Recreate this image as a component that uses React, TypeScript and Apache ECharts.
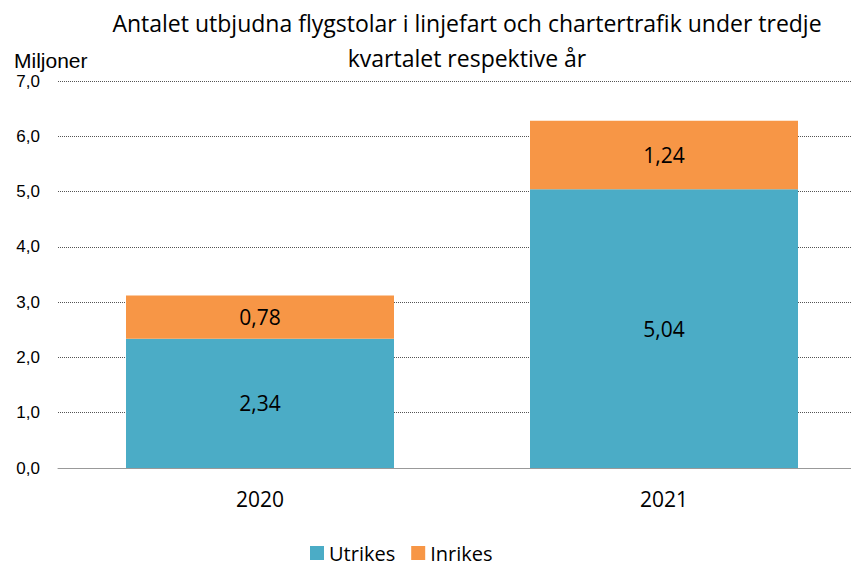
import React, { useEffect, useRef } from "react";
import * as echarts from "echarts";

const categories = ["2020", "2021"];
const utrikes = [2.34, 5.04];
const inrikes = [0.78, 1.24];
const titleText = "Antalet utbjudna flygstolar i linjefart och chartertrafik under tredje\nkvartalet respektive år";

const fmt = (v: number) => v.toFixed(2).replace(".", ",");

export default function App() {
  const ref = useRef<HTMLDivElement>(null);
  useEffect(() => {
    document.body.style.margin = "0";
    const chart = echarts.init(ref.current!, null, { renderer: "svg" });
    const font = "'Open Sans', sans-serif";
    const arial = "'Liberation Sans', Arial, sans-serif";
    chart.setOption({
      animation: false,
      title: {
        text: titleText,
        left: 462,
        top: 0,
        textAlign: "center",
        textStyle: { fontFamily: font, fontSize: 23, fontWeight: "normal", color: "#000", lineHeight: 35 },
      },
      legend: {
        top: 543,
        left: 310,
        padding: 0,
        itemWidth: 14,
        itemHeight: 14,
        itemGap: 16,
        icon: "rect",
        textStyle: { fontFamily: font, fontSize: 20, lineHeight: 18, color: "#000" },
        data: ["Utrikes", "Inrikes"],
      },
      grid: { left: 58, right: 0, top: 81, bottom: 97 },
      xAxis: {
        type: "category",
        data: categories,
        axisLine: { show: true, lineStyle: { color: "#999", width: 1 } },
        axisTick: { show: false },
        axisLabel: { fontFamily: font, fontSize: 21, color: "#000", margin: 20 },
      },
      yAxis: {
        type: "value",
        min: 0,
        max: 7,
        interval: 1,
        name: "Miljoner",
        nameLocation: "end",
        nameGap: 10,
        nameTextStyle: { fontFamily: arial, fontSize: 21, color: "#000", align: "left", padding: [0, 0, 0, -44] },
        axisLine: { show: false },
        axisTick: { show: false },
        axisLabel: {
          fontFamily: arial,
          fontSize: 17,
          color: "#000",
          margin: 18,
          formatter: (v: number) => v.toFixed(1).replace(".", ","),
        },
        splitLine: { lineStyle: { color: "#555", type: [1, 1], width: 1 } },
      },
      series: [
        {
          name: "Utrikes",
          type: "bar",
          stack: "a",
          data: utrikes,
          barWidth: 268,
          itemStyle: { color: "#4BACC6" },
          label: { show: true, position: "inside", fontFamily: font, fontSize: 21, color: "#000", formatter: (p: any) => fmt(p.value) },
        },
        {
          name: "Inrikes",
          type: "bar",
          stack: "a",
          data: inrikes,
          barWidth: 268,
          itemStyle: { color: "#F79646" },
          label: { show: true, position: "inside", fontFamily: font, fontSize: 21, color: "#000", formatter: (p: any) => fmt(p.value) },
        },
      ],
    });
    return () => chart.dispose();
  }, []);
  return (
    <div style={{ width: 851, height: 565, overflow: "hidden", position: "relative" }}>
      <div ref={ref} style={{ width: 866, height: 565 }} />
    </div>
  );
}
